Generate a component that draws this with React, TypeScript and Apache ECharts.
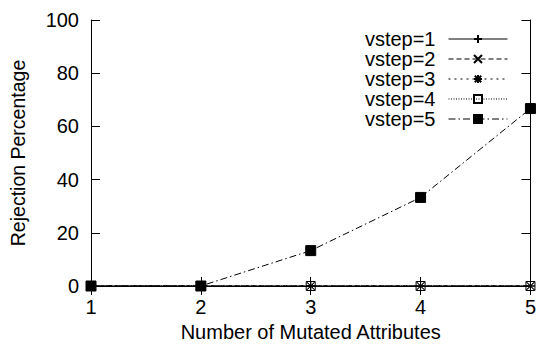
import React, { useEffect, useRef } from "react";
import * as echarts from "echarts";

const xValues = [1, 2, 3, 4, 5];
const seriesNames = ["vstep=1", "vstep=2", "vstep=3", "vstep=4", "vstep=5"];
const vstep1 = [0, 0, 0, 0, 0];
const vstep2 = [0, 0, 0, 0, 0];
const vstep3 = [0, 0, 0, 0, 0];
const vstep4 = [0, 0, 0, 0, 0];
const vstep5 = [0, 0, 13.3, 33.3, 66.7];
const allValues = [vstep1, vstep2, vstep3, vstep4, vstep5];

const FONT = "Liberation Sans, Arial, Helvetica, sans-serif";

const styles = [
  { symbol: "path://M-1,0L1,0M0,-1L0,1", size: 9, dash: "solid" as any, fill: "#000" },
  { symbol: "path://M-1,-1L1,1M-1,1L1,-1", size: 8, dash: [5, 3], fill: "#000" },
  { symbol: "path://M-1,0L1,0M0,-1L0,1M-0.8,-0.8L0.8,0.8M-0.8,0.8L0.8,-0.8", size: 9, dash: [2, 4], fill: "#000" },
  { symbol: "rect", size: 9, dash: [1, 1.5], fill: "rgba(0,0,0,0)" },
  { symbol: "rect", size: 10, dash: [7, 3, 1.5, 3], fill: "#000" },
];

export default function App() {
  const ref = useRef<HTMLDivElement>(null);
  useEffect(() => {
    const chart = echarts.init(ref.current!, null, { renderer: "svg" });
    const axisCommon = {
      axisLine: { show: true, lineStyle: { color: "#000", width: 1 } },
      axisTick: { show: true, inside: true, length: 9, lineStyle: { color: "#000" } },
      splitLine: { show: false },
    };
    chart.setOption({
      animation: false,
      backgroundColor: "#fff",
      grid: { left: 90, right: 2, top: 20, bottom: 62 },
      xAxis: [
        {
          type: "value",
          min: 1,
          max: 5,
          interval: 1,
          ...axisCommon,
          axisLabel: { color: "#000", fontFamily: FONT, fontSize: 20, margin: 11 },
          name: "Number of Mutated Attributes",
          nameLocation: "middle",
          nameGap: 35,
          nameTextStyle: { color: "#000", fontFamily: FONT, fontSize: 20 },
        },
        {
          type: "value",
          position: "top",
          min: 1,
          max: 5,
          interval: 1,
          ...axisCommon,
          axisLabel: { show: false },
        },
      ],
      yAxis: [
        {
          type: "value",
          min: 0,
          max: 100,
          interval: 20,
          ...axisCommon,
          axisLabel: { color: "#000", fontFamily: FONT, fontSize: 20, margin: 12 },
          name: "Rejection Percentage",
          nameLocation: "middle",
          nameGap: 63,
          nameTextStyle: { color: "#000", fontFamily: FONT, fontSize: 19.5 },
        },
        {
          type: "value",
          position: "right",
          min: 0,
          max: 100,
          interval: 20,
          ...axisCommon,
          axisLabel: { show: false },
        },
      ],
      legend: {
        orient: "vertical",
        right: 31,
        top: 29,
        padding: 0,
        align: "right",
        itemWidth: 59,
        itemHeight: 10,
        itemGap: 0,
        data: seriesNames,
        lineStyle: { width: 1 },
        textStyle: {
          color: "#000",
          fontFamily: FONT,
          fontSize: 20,
          lineHeight: 20,
          padding: [0, 8, 0, 0],
        },
      },
      series: seriesNames.map((name, i) => ({
        name,
        type: "line",
        data: xValues.map((x, j) => [x, allValues[i][j]]),
        symbol: styles[i].symbol,
        symbolSize: styles[i].size,
        showSymbol: true,
        z: 2 + i,
        lineStyle: { color: "#000", width: 1, type: styles[i].dash },
        itemStyle: { color: styles[i].fill, borderColor: "#000", borderWidth: 1, opacity: 1 },
        emphasis: { disabled: true },
      })),
    });
    return () => chart.dispose();
  }, []);
  return <div ref={ref} style={{ width: 539, height: 348, position: "absolute", left: 0, top: 0 }} />;
}
